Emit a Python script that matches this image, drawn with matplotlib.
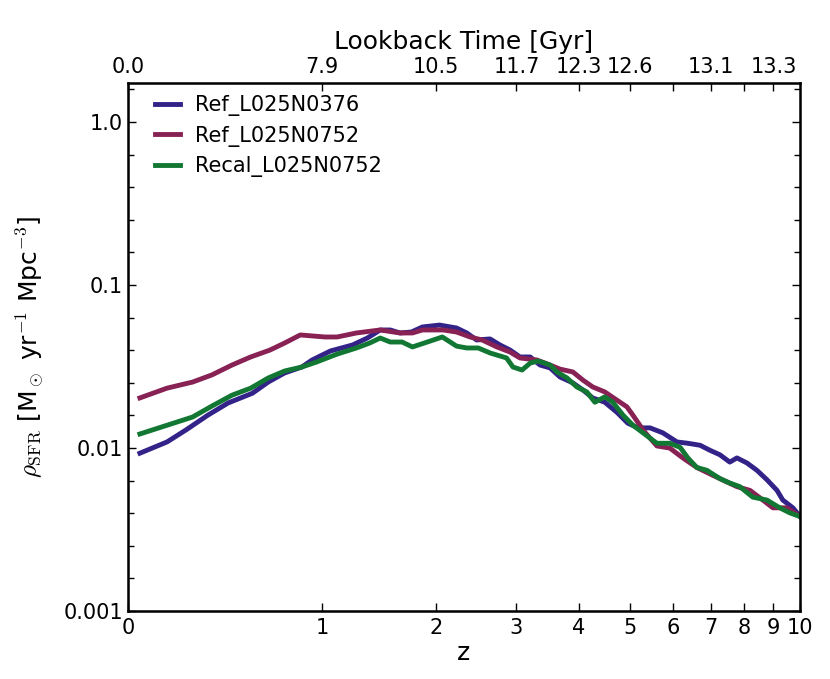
import matplotlib
matplotlib.use('Agg')
import matplotlib.pyplot as plt
import numpy as np

plt.rcParams['mathtext.fontset'] = 'cm'

# redshift and star formation rate density
z_ref376 = [0.044, 0.15, 0.23, 0.33, 0.43, 0.56, 0.65, 0.75, 0.86, 0.93, 1.06, 1.23, 1.35, 1.46,
            1.55, 1.64, 1.75, 1.86, 2.04, 2.23, 2.35, 2.47, 2.64, 2.77, 2.91, 3.05, 3.20, 3.35,
            3.51, 3.67, 3.89, 4.07, 4.25, 4.48, 4.72, 4.95, 5.17, 5.44, 5.74, 6.09, 6.37, 6.70,
            6.97, 7.26, 7.56, 7.78, 8.10, 8.43, 8.77, 9.13, 9.34, 9.72, 10.0]
sfr_ref376 = [0.0093, 0.0109, 0.0129, 0.0159, 0.0189, 0.0217, 0.0254, 0.0289, 0.0314, 0.0347,
              0.0394, 0.0429, 0.0473, 0.0530, 0.0530, 0.0508, 0.0515, 0.0553, 0.0568, 0.0545,
              0.0508, 0.0460, 0.0467, 0.0429, 0.0399, 0.0362, 0.0362, 0.0323, 0.0310, 0.0273,
              0.0251, 0.0227, 0.0203, 0.0191, 0.0166, 0.0142, 0.0133, 0.0133, 0.0124, 0.0109,
              0.0107, 0.0104, 0.0097, 0.0091, 0.0082, 0.0087, 0.0081, 0.0073, 0.0064, 0.0055,
              0.0048, 0.0043, 0.0038]

z_ref752 = [0.044, 0.15, 0.26, 0.35, 0.45, 0.55, 0.66, 0.75, 0.85, 1.02, 1.11, 1.26, 1.46, 1.64,
            1.76, 1.86, 2.08, 2.23, 2.39, 2.54, 2.73, 2.91, 3.05, 3.30, 3.51, 3.67, 3.89, 4.07,
            4.25, 4.48, 4.72, 4.93, 5.06, 5.21, 5.28, 5.60, 5.91, 6.24, 6.61, 7.06, 7.47, 7.78,
            8.20, 8.63, 8.98, 9.49, 10.0]
sfr_ref752 = [0.0203, 0.0233, 0.0254, 0.0281, 0.0323, 0.0362, 0.0399, 0.0441, 0.0494, 0.0480,
              0.0480, 0.0508, 0.0530, 0.0508, 0.0508, 0.0530, 0.0530, 0.0515, 0.0480, 0.0460,
              0.0417, 0.0388, 0.0357, 0.0347, 0.0323, 0.0305, 0.0293, 0.0261, 0.0237, 0.0221,
              0.0197, 0.0179, 0.0159, 0.0138, 0.0129, 0.0103, 0.0100, 0.0087, 0.0076, 0.0068,
              0.0062, 0.0058, 0.0055, 0.0048, 0.0043, 0.0043, 0.0038]

z_recal752 = [0.044, 0.15, 0.26, 0.35, 0.45, 0.55, 0.65, 0.75, 0.86, 0.96, 1.11, 1.26, 1.37, 1.46,
              1.55, 1.66, 1.76, 1.91, 2.07, 2.23, 2.35, 2.49, 2.64, 2.86, 2.95, 3.08, 3.20, 3.32,
              3.51, 3.62, 3.79, 3.96, 4.14, 4.29, 4.48, 4.64, 4.85, 5.06, 5.28, 5.60, 5.91, 6.17,
              6.37, 6.61, 6.89, 7.26, 7.56, 7.87, 8.29, 8.77, 9.23, 9.61, 10.0]
sfr_recal752 = [0.0122, 0.0138, 0.0155, 0.0181, 0.0211, 0.0233, 0.0269, 0.0297, 0.0314, 0.0337,
                0.0377, 0.0411, 0.0441, 0.0473, 0.0447, 0.0447, 0.0417, 0.0447, 0.0480, 0.0422,
                0.0411, 0.0411, 0.0383, 0.0357, 0.0314, 0.0301, 0.0332, 0.0342, 0.0323, 0.0293,
                0.0269, 0.0237, 0.0221, 0.0191, 0.0206, 0.0191, 0.0159, 0.0138, 0.0124, 0.0107,
                0.0107, 0.0101, 0.0087, 0.0076, 0.0073, 0.0065, 0.0061, 0.0058, 0.0050, 0.0048,
                0.0043, 0.0040, 0.0038]

z_ticks = [0, 1, 2, 3, 4, 5, 6, 7, 8, 9, 10]
top_z = [0, 1, 2, 3, 4, 5, 6, 7, 8, 9]
top_labels = ['0.0', '7.9', '10.5', '11.7', '12.3', '12.6', '', '13.1', '', '13.3']
y_ticks = [0.001, 0.01, 0.1, 1.0]
y_labels = ['0.001', '0.01', '0.1', '1.0']

def lz(z):
    return np.log10(1 + np.array(z))

fig = plt.figure(figsize=(8.3, 6.79), dpi=100)
ax = fig.add_axes([0.154, 0.100, 0.810, 0.778])

ax.plot(lz(z_ref376), np.log10(sfr_ref376), color='#332288', lw=3.5, label='Ref_L025N0376')
ax.plot(lz(z_ref752), np.log10(sfr_ref752), color='#882255', lw=3.5, label='Ref_L025N0752')
ax.plot(lz(z_recal752), np.log10(sfr_recal752), color='#117733', lw=3.5, label='Recal_L025N0752')

ax.set_xlim(0, np.log10(11))
ax.set_ylim(-3, 0.24)
ax.set_xticks(lz(z_ticks))
ax.set_xticklabels([str(v) for v in z_ticks])
ax.set_yticks(np.log10(y_ticks))
ax.set_yticklabels(y_labels)
ax.set_yticks(np.arange(-3, 0.25, 0.2), minor=True)
ax.tick_params(which='both', direction='in', right=True, labelsize=15, width=1)
ax.tick_params(which='major', length=6)
ax.tick_params(which='minor', length=4.5)
ax.tick_params(axis='x', top=False, pad=5)
for s in ax.spines.values():
    s.set_linewidth(1.8)

ax.set_xlabel('z', fontsize=18, labelpad=2)
ax.set_ylabel(r'$\rho_{\rm SFR}$ [M$_\odot$ yr$^{-1}$ Mpc$^{-3}$]', fontsize=18, labelpad=12)

ax2 = ax.twiny()
ax2.set_xlim(ax.get_xlim())
ax2.set_xticks(lz(top_z))
ax2.set_xticklabels(top_labels)
ax2.tick_params(direction='in', length=6, width=1, labelsize=15, pad=4)
ax2.set_xlabel('Lookback Time [Gyr]', fontsize=18, labelpad=6)

ax.legend(loc='upper left', bbox_to_anchor=(0.022, 1.0), frameon=False, fontsize=15,
          handlelength=1.2, handletextpad=0.7, labelspacing=0.45, borderaxespad=0.2)

fig.savefig('out.png', dpi=100)
